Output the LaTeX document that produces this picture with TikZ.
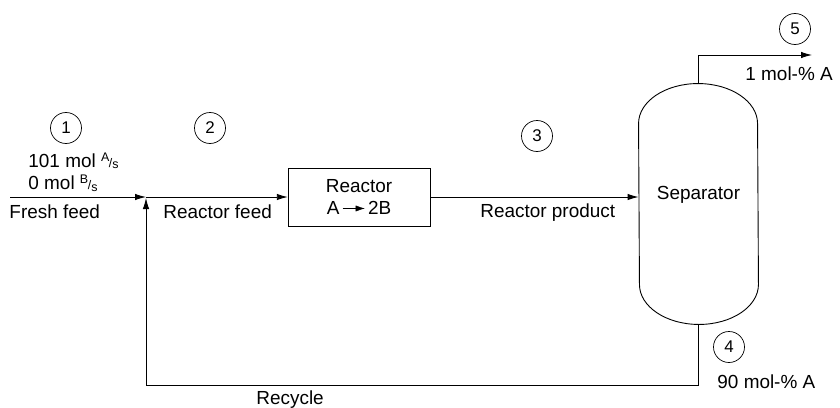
\documentclass[tikz,border=0pt]{standalone}
\usepackage{fontspec}
\setmainfont{Liberation Sans}
\usepackage{tikz}
\usetikzlibrary{arrows.meta, positioning, calc}

\begin{document}
\begin{tikzpicture}[x=1bp,y=1bp,>={Latex[length=11bp,width=6.5bp]},
        line width=0.9bp, every node/.style={font=\fontsize{19}{23}\selectfont}]
        \tikzstyle{unit}=[draw,rectangle,inner sep=0pt]
        \tikzstyle{num}=[draw,circle,minimum size=31bp,inner sep=0pt,line width=0.7bp,
                font=\fontsize{17}{17}\selectfont]
        \tikzstyle{tag}=[inner sep=0pt,anchor=base west]
        \useasboundingbox (0,0) rectangle (840,407);

        % units
        \node[unit,minimum width=142bp,minimum height=58bp,align=center](R) at (359,210)
                {Reactor\\A\,\tikz[baseline=-6.5bp]\draw[-{Latex[length=9bp,width=6bp]}] (0,0) -- (22bp,0);\,2B};
        \node[minimum width=119bp,minimum height=240bp,inner sep=0pt](S) at (698.5,203){};
        \draw ([yshift=-40bp]S.north west) arc[start angle=180,end angle=0,x radius=59.5bp,y radius=40bp]
                -- ([yshift=40bp]S.south east) arc[start angle=0,end angle=-180,x radius=59.5bp,y radius=40bp]
                -- cycle;
        \node[inner sep=0pt] (Slab) at ($(S.center)+(0,9)$) {Separator};

        % stream points
        \coordinate (F) at (10,210);
        \coordinate (J) at (146,210);
        \coordinate (T) at (S.north |- 0,352);
        \coordinate (P) at (812,352);
        \coordinate (B) at (S.south |- 0,22);
        \coordinate (K) at (146,22);

        % streams
        \draw[->] (F) -- (J);
        \draw[->] (J) -- (R.west);
        \draw[->] (R.east) -- (S.west |- R.east);
        \draw[->] (S.north) -- (T) -- (P);
        \draw[->] (S.south) -- (B) -- (K) -- ([yshift=-1bp]J);

        % stream numbers
        \node[num](n1) at (66,279){1};
        \node[num](n2) at (210,279){2};
        \node[num](n3) at (537,271){3};
        \node[num](n4) at (729,60){4};
        \node[num](n5) at (795,378){5};

        % labels
        \node[inner sep=0pt,anchor=west,align=left](comp) at (28,235)
                {101 mol {\fontsize{12.5}{12}\selectfont\raisebox{6bp}{A}\kern-0.5bp/\raisebox{-1.5bp}{s}}\\
                 0 mol {\fontsize{12.5}{12}\selectfont\raisebox{6bp}{B}\kern-0.5bp/\raisebox{-1.5bp}{s}}};
        \node[tag](ff) at (9,189){Fresh feed};
        \node[tag](rf) at (163,189){Reactor feed};
        \node[tag](rp) at (480,190){Reactor product};
        \node[tag](rc) at (256,3){Recycle};
        \node[tag](top) at (745,327){1 mol-\% A};
        \node[tag](bot) at (717,19){90 mol-\% A};
\end{tikzpicture}
\end{document}
